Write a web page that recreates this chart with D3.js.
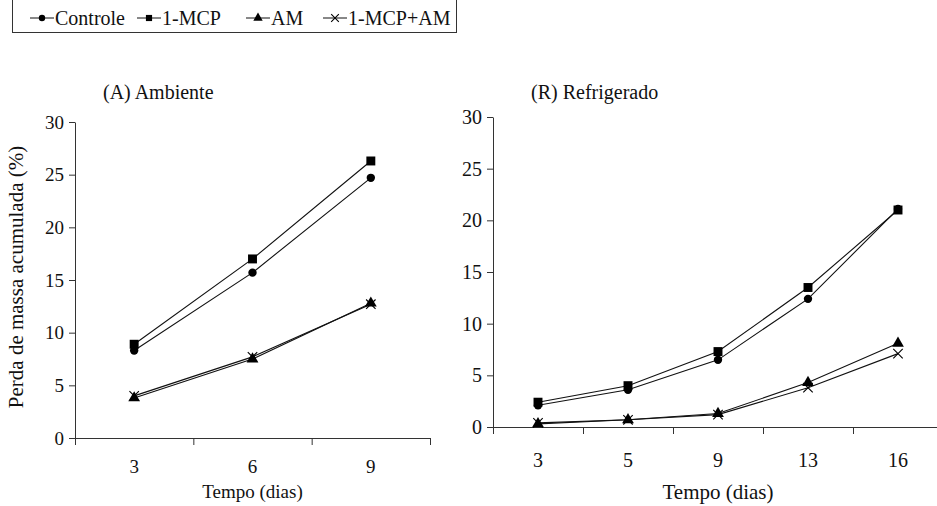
<!DOCTYPE html>
<html>
<head>
<meta charset="utf-8">
<script src="https://cdn.jsdelivr.net/npm/d3@7"></script>
<style>
  body { margin: 0; background: #fff; }
  svg text { font-family: 'Liberation Serif', 'Times New Roman', 'DejaVu Serif', serif; }
</style>
</head>
<body>
<script>
// data
const seriesNames = ["Controle", "1-MCP", "AM", "1-MCP+AM"];
const yTicks = [0, 5, 10, 15, 20, 25, 30];

const diasA = ["3", "6", "9"];
const controleA = [8.3, 15.7, 24.7];
const mcpA = [8.9, 17.0, 26.3];
const amA = [3.8, 7.5, 12.8];
const mcpAmA = [4.0, 7.7, 12.7];

const diasR = ["3", "5", "9", "13", "16"];
const controleR = [2.1, 3.6, 6.5, 12.4, 21.1];
const mcpR = [2.4, 4.0, 7.3, 13.5, 21.0];
const amR = [0.3, 0.7, 1.3, 4.3, 8.1];
const mcpAmR = [0.4, 0.7, 1.2, 3.8, 7.1];

const width = 937, height = 506;
const serif = "'Liberation Serif', 'Times New Roman', 'DejaVu Serif', serif";

const svg = d3.select("body").append("svg")
  .attr("width", width)
  .attr("height", height)
  .attr("font-family", serif);

const symbols = [d3.symbolCircle, d3.symbolSquare, d3.symbolTriangle, d3.symbolX];
const sizes = [55, 80, 60, 60];
const legendSizes = [32, 38, 38, 40];

const marker = (g, i, x, y, size) => {
  const filled = i < 3;
  g.append("path")
    .attr("transform", `translate(${x},${y})`)
    .attr("d", d3.symbol(symbols[i], size || sizes[i])())
    .attr("fill", filled ? "#000" : "none")
    .attr("stroke", filled ? "none" : "#000")
    .attr("stroke-width", 1.1);
};

const styleAxis = (a, font) => {
  a.attr("font-family", serif).attr("font-size", null);
  a.selectAll("text").attr("font-size", font).attr("font-family", serif).attr("fill", "#111");
  a.selectAll("line,path").attr("stroke", "#333");
};

const drawPanel = (opt) => {
  const g = svg.append("g");
  const x = d3.scaleBand().domain(opt.dias).range([opt.x0, opt.x1]);
  const y = d3.scaleLinear().domain([0, 30]).range([opt.y0, opt.y1]);

  // y axis
  g.append("g")
    .attr("transform", `translate(${opt.x0},0)`)
    .call(d3.axisLeft(y).tickValues(yTicks).tickSize(6).tickSizeOuter(0).tickPadding(5))
    .call(a => styleAxis(a, opt.tickFont));

  // x axis: ticks on the category boundaries
  const xb = d3.scaleLinear().domain([0, opt.dias.length]).range([opt.x0, opt.x1]);
  g.append("g")
    .attr("transform", `translate(0,${opt.y0})`)
    .call(d3.axisBottom(xb).ticks(opt.dias.length).tickFormat("").tickSize(7).tickSizeOuter(0))
    .call(a => styleAxis(a, opt.tickFont));

  // x labels
  g.append("g")
    .attr("transform", `translate(0,${opt.y0})`)
    .call(d3.axisBottom(x).tickSize(0).tickPadding(opt.labelPad))
    .call(a => a.select(".domain").remove())
    .call(a => styleAxis(a, opt.tickFont));

  g.append("text")
    .attr("x", (opt.x0 + (opt.titleXEnd || opt.x1)) / 2)
    .attr("y", opt.xTitleY)
    .attr("text-anchor", "middle")
    .attr("font-size", opt.xTitleFont)
    .attr("fill", "#111")
    .text("Tempo (dias)");

  g.append("text")
    .attr("x", opt.titleX)
    .attr("y", opt.titleY)
    .attr("font-size", 20)
    .attr("fill", "#111")
    .text(opt.title);

  const line = d3.line()
    .x((d, i) => x(opt.dias[i]) + x.bandwidth() / 2)
    .y(d => y(d));

  opt.values.forEach(vals => {
    g.append("path")
      .attr("d", line(vals))
      .attr("fill", "none")
      .attr("stroke", "#111")
      .attr("stroke-width", 1.1);
  });
  opt.values.forEach((vals, s) => {
    vals.forEach((v, i) => marker(g, s, x(opt.dias[i]) + x.bandwidth() / 2, y(v)));
  });
  return g;
};

drawPanel({
  dias: diasA, values: [controleA, mcpA, amA, mcpAmA],
  x0: 75, x1: 430, y0: 438, y1: 122,
  tickFont: 19, labelPad: 22, xTitleY: 498, xTitleFont: 19,
  title: "(A) Ambiente", titleX: 103, titleY: 99
});

drawPanel({
  dias: diasR, values: [controleR, mcpR, amR, mcpAmR],
  x0: 493, x1: 943, y0: 427, y1: 117,
  tickFont: 20, labelPad: 26, xTitleY: 499, xTitleFont: 21, titleXEnd: 943,
  title: "(R) Refrigerado", titleX: 531, titleY: 99
});

// y axis title
svg.append("text")
  .attr("transform", "translate(23,277) rotate(-90)")
  .attr("text-anchor", "middle")
  .attr("font-size", 21)
  .attr("fill", "#111")
  .text("Perda de massa acumulada (%)");

// legend
const legend = svg.append("g");
legend.append("rect")
  .attr("x", 12.5).attr("y", -5)
  .attr("width", 444).attr("height", 37.5)
  .attr("fill", "none").attr("stroke", "#333");

const legX = [30, 137, 246, 323];
seriesNames.forEach((name, i) => {
  const lx = legX[i];
  legend.append("line")
    .attr("x1", lx).attr("x2", lx + 24)
    .attr("y1", 18).attr("y2", 18)
    .attr("stroke", "#111");
  marker(legend, i, lx + 12, 18, legendSizes[i]);
  legend.append("text")
    .attr("x", lx + 25).attr("y", 25)
    .attr("font-size", 20)
    .attr("fill", "#111")
    .text(name);
});
</script>
</body>
</html>
